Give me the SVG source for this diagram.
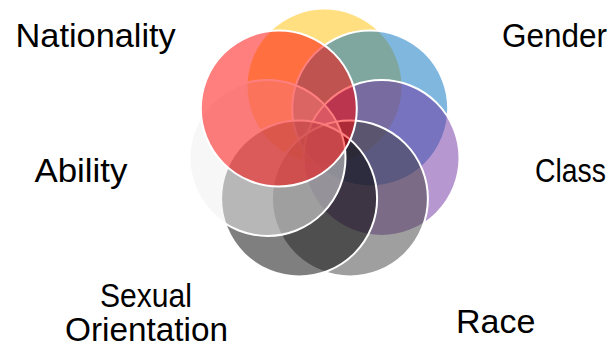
<svg xmlns="http://www.w3.org/2000/svg" width="613" height="348" viewBox="0 0 613 348">
  <style>
    .c { stroke: #FFFFFF; stroke-width: 2; fill-opacity: 0.5; }
    .lbl { font-family: "Liberation Sans", Arial, sans-serif; font-size: 34px; fill: #000000; }
  </style>
  <rect x="0" y="0" width="613" height="348" fill="#FFFFFF"/>
  <g id="circles">
    <g id="node-yellow"><circle class="c" cx="324.5" cy="86.5" r="78" fill="#FFC000"/></g>
    <g id="node-gender"><circle class="c" cx="370.2" cy="108.5" r="78" fill="#0070C0"/></g>
    <g id="node-class"><circle class="c" cx="381.5" cy="158" r="78" fill="#7030A0"/></g>
    <g id="node-race"><circle class="c" cx="349.9" cy="198.5" r="78" fill="#404040"/></g>
    <g id="node-sexual-orientation"><circle class="c" cx="299.1" cy="198.5" r="78" fill="#000000"/></g>
    <g id="node-ability"><circle class="c" cx="267.5" cy="158" r="78" fill="#EFEFEF"/></g>
    <g id="node-nationality"><circle class="c" cx="278.8" cy="108.5" r="78" fill="#FF0000"/></g>
  </g>
  <g id="labels">
    <text class="lbl" transform="translate(15.5,47) scale(1.01,1)">Nationality</text>
    <text class="lbl" transform="translate(502,47) scale(0.926,1)">Gender</text>
    <text class="lbl" transform="translate(34.5,182) scale(1.025,1)">Ability</text>
    <text class="lbl" transform="translate(535,182) scale(0.835,1)">Class</text>
    <text class="lbl" transform="translate(100,306.5) scale(0.885,1)">Sexual</text>
    <text class="lbl" transform="translate(65,341) scale(0.98,1)">Orientation</text>
    <text class="lbl" transform="translate(456,333) scale(1.0,1)">Race</text>
  </g>
</svg>
